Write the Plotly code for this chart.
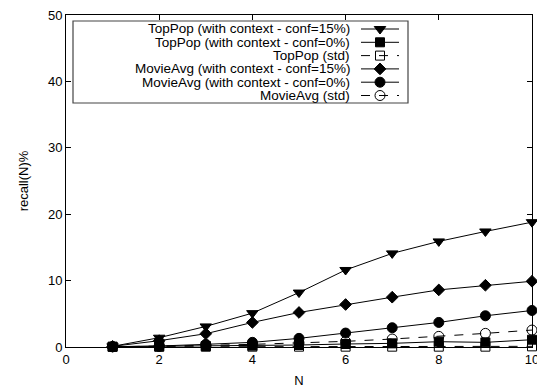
import plotly.graph_objects as go

N = [1, 2, 3, 4, 5, 6, 7, 8, 9, 10]
series_names = [
    "TopPop (with context - conf=15%)",
    "TopPop (with context - conf=0%)",
    "TopPop (std)",
    "MovieAvg (with context - conf=15%)",
    "MovieAvg (with context - conf=0%)",
    "MovieAvg (std)",
]
toppop_ctx15 = [0.1, 1.4, 3.1, 5.1, 8.2, 11.6, 14.1, 15.9, 17.4, 18.8]
toppop_ctx0 = [0.05, 0.1, 0.15, 0.2, 0.3, 0.45, 0.55, 0.8, 0.7, 1.1]
toppop_std = [0.02, 0.03, 0.04, 0.05, 0.05, 0.05, 0.05, 0.05, 0.05, 0.1]
movieavg_ctx15 = [0.1, 0.95, 2.0, 3.7, 5.2, 6.4, 7.5, 8.6, 9.3, 9.9]
movieavg_ctx0 = [0.05, 0.15, 0.4, 0.7, 1.3, 2.1, 2.9, 3.7, 4.7, 5.5]
movieavg_std = [0.03, 0.1, 0.25, 0.4, 0.6, 0.85, 1.2, 1.6, 2.05, 2.55]
x_ticks = [0, 2, 4, 6, 8, 10]
y_ticks = [0, 10, 20, 30, 40, 50]

values = [toppop_ctx15, toppop_ctx0, toppop_std, movieavg_ctx15, movieavg_ctx0, movieavg_std]
styles = [
    dict(symbol="triangle-down", size=10, dash="solid"),
    dict(symbol="square", size=9, dash="solid"),
    dict(symbol="square-open", size=9, dash="dash"),
    dict(symbol="diamond", size=9, dash="solid"),
    dict(symbol="circle", size=10, dash="solid"),
    dict(symbol="circle-open", size=10, dash="dash"),
]

FONT = "Liberation Sans, Arial, Helvetica, sans-serif"
fig = go.Figure()

for name, vals, st in zip(series_names, values, styles):
    fig.add_trace(go.Scatter(
        x=N, y=vals, mode="lines+markers", name=name, showlegend=False,
        line=dict(color="black", width=1, dash=st["dash"]),
        marker=dict(symbol=st["symbol"], size=st["size"], color="black",
                    line=dict(color="black", width=1)),
        cliponaxis=False,
    ))

# custom gnuplot-style legend (text left, sample right) on an overlay axis in paper units
W, H = 466.0, 332.0
box_x0, box_x1 = 7 / W, 342 / W
box_y1, box_y0 = 1 - 6 / H, 1 - 88 / H
text_right = 286 / W
samp_x0, samp_x1 = 295 / W, 333 / W
row0, row_step = 14.0, 13.3

fig.add_shape(type="rect", xref="paper", yref="paper", x0=box_x0, x1=box_x1,
              y0=box_y0, y1=box_y1, line=dict(color="#444", width=1.2),
              fillcolor="white", layer="below")
for i, (name, st) in enumerate(zip(series_names, styles)):
    yy = 1 - (row0 + row_step * i) / H
    fig.add_annotation(xref="paper", yref="paper", x=text_right, y=yy, text=name,
                       showarrow=False, xanchor="right", yanchor="middle",
                       font=dict(family=FONT, size=13.5, color="black"))
    fig.add_trace(go.Scatter(
        x=[samp_x0, (samp_x0 + samp_x1) / 2, samp_x1], y=[yy, yy, yy],
        mode="lines", xaxis="x2", yaxis="y2", showlegend=False, hoverinfo="skip",
        line=dict(color="black", width=1, dash=st["dash"]),
    ))
    fig.add_trace(go.Scatter(
        x=[(samp_x0 + samp_x1) / 2], y=[yy], mode="markers", xaxis="x2", yaxis="y2",
        showlegend=False, hoverinfo="skip",
        marker=dict(symbol=st["symbol"], size=st["size"], color="black",
                    line=dict(color="black", width=1)),
    ))

axis_common = dict(showgrid=False, zeroline=False, showline=True, linecolor="black",
                   linewidth=1, mirror="allticks", ticks="inside", ticklen=5,
                   tickcolor="black", automargin=False, ticklabeloverflow="allow",
                   tickfont=dict(family=FONT, size=13, color="black"))

# the page body adds an 8px offset, so margins are shifted by that amount
fig.update_layout(
    width=545, height=385,
    margin=dict(l=58, r=21, t=7, b=46),
    paper_bgcolor="white", plot_bgcolor="white",
    font=dict(family=FONT, size=13, color="black"),
    xaxis=dict(range=[0, 10], tickvals=x_ticks, ticktext=[str(t) for t in x_ticks],
               title=dict(text="N", standoff=10, font=dict(family=FONT, size=13)),
               **axis_common),
    yaxis=dict(range=[0, 50], tickvals=y_ticks, ticktext=[str(t) for t in y_ticks],
               title=dict(text="recall(N)%", standoff=16, font=dict(family=FONT, size=13)),
               **axis_common),
    xaxis2=dict(overlaying="x", range=[0, 1], visible=False, fixedrange=True),
    yaxis2=dict(overlaying="y", range=[0, 1], visible=False, fixedrange=True),
)

fig.write_html("out.html")
